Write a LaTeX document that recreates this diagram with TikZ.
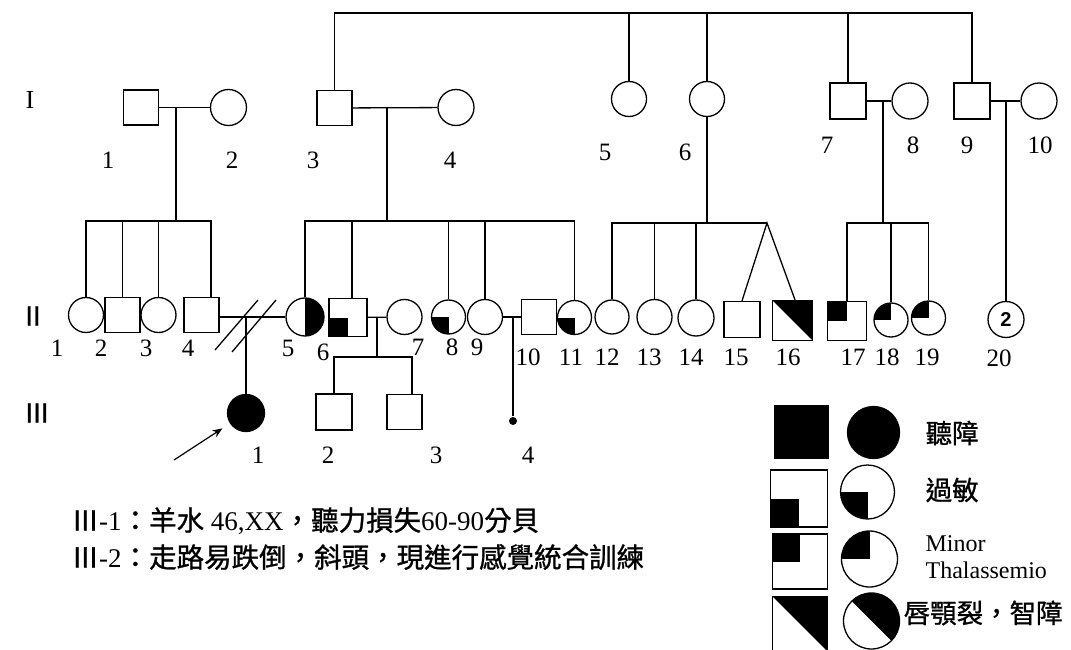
\documentclass[tikz,border=0pt]{standalone}
\usepackage{fontspec}
\setmainfont{Liberation Serif}
\newfontfamily\cjk[FakeBold=1]{Noto Sans CJK TC}
\newfontfamily\arialf{Liberation Sans}
\usetikzlibrary{arrows.meta}
\newcommand{\zh}[1]{{\cjk\fontsize{27.5}{30}\selectfont #1}}

\begin{document}
\begin{tikzpicture}[
  x=1pt, y=-1pt,
  line width=1.3pt,
  male/.style={draw, rectangle, minimum size=#1, inner sep=0pt},
  male/.default=35pt,
  female/.style={draw, circle, minimum size=#1, inner sep=0pt},
  female/.default=35pt,
  deaf/.style={fill=black},
  allergy/.style={path picture={\fill (path picture bounding box.south west) rectangle (path picture bounding box.center);}},
  thal/.style={path picture={\fill (path picture bounding box.north west) rectangle (path picture bounding box.center);}},
  halfr/.style={path picture={\fill (path picture bounding box.north) rectangle (path picture bounding box.south east);}},
  cleft/.style={path picture={\fill (path picture bounding box.north west) -- (path picture bounding box.north east) -- (path picture bounding box.south east) -- cycle;}},
  num/.style={inner sep=0pt, font=\fontsize{25}{28}\selectfont},
  gen/.style={inner sep=0pt, font=\fontsize{26}{28}\selectfont},
  note/.style={anchor=west, inner sep=0pt, font=\fontsize{27}{30}\selectfont},
  key/.style={anchor=west, inner sep=0pt, font=\cjk\fontsize{26.5}{30}\selectfont},
  keyen/.style={anchor=west, inner sep=0pt, font=\fontsize{24}{24}\selectfont}
]
\useasboundingbox (0,0) rectangle (1071,650);

% generation labels
\node[gen] (gI) at (30,100) {I};
\node[gen] (gII) at (33,316) {\cjk Ⅱ};
\node[gen] (gIII) at (37,413) {\cjk Ⅲ};

% generation I
\node[male] (I1) at (141,107.5) {};
\node[female=36pt] (I2) at (228.5,107.5) {};
\node[male] (I3) at (334.5,108) {};
\node[female=36pt] (I4) at (456,107.5) {};
\node[female] (I5) at (629,99) {};
\node[female] (I6) at (707,99) {};
\node[male=36pt] (I7) at (848,101) {};
\node[female=36pt] (I8) at (910,101) {};
\node[male=36pt] (I9) at (972,101) {};
\node[female=36pt] (I10) at (1039,101) {};

% generation II
\node[female] (II1) at (86,315) {};
\node[male] (II2) at (122.5,315) {};
\node[female] (II3) at (158.5,315) {};
\node[male] (II4) at (201.5,315) {};
\node[female=38pt, halfr] (II5) at (305,317) {};
\node[male=38pt, allergy] (II6) at (348,317.5) {};
\node[female] (II7) at (404.5,317) {};
\node[female=34pt, allergy] (II8) at (448.5,317) {};
\node[female] (II9) at (485,317) {};
\node[male] (II10) at (539,317) {};
\node[female=34pt, allergy] (II11) at (574.5,317.5) {};
\node[female=34pt] (II12) at (612,317) {};
\node[female] (II13) at (654.5,317) {};
\node[female=36pt] (II14) at (696,318) {};
\node[male=36pt] (II15) at (742,319.5) {};
\node[male=40pt, cleft] (II16) at (792.5,320.5) {};
\node[male=39pt, thal] (II17) at (847,321) {};
\node[female=34pt, thal] (II18) at (891,320) {};
\node[female=34pt, thal] (II19) at (928.5,318) {};
\node[female=36pt, font=\arialf\bfseries\fontsize{20}{20}\selectfont] (II20) at (1006,319.5) {2};

% generation III
\node[female=37pt, deaf] (III1) at (246,413) {};
\node[male=36pt] (III2) at (334,412) {};
\node[male] (III3) at (404.5,412) {};
\node[circle, fill, inner sep=0pt, minimum size=8pt] (III4) at (513,421) {};

% sibship of I-3 .. I-9
\coordinate (top) at (0,13);
\draw (I3.north) |- (I9.north |- top) -- (I9.north);
\draw (I5.north) -- (I5.north |- top);
\draw (I6.north) -- (I6.north |- top);
\draw (I7.north) -- (I7.north |- top);

% I-1 x I-2
\draw (I1) -- (I2);
\coordinate (m12) at (176,107.5);
\coordinate (s12) at (176,221);
\draw (m12) -- (s12);
\draw (II1.north) |- (s12) -| ([xshift=9.5pt]II4.north);
\draw (II2.north) -- (II2.north |- s12);
\draw (II3.north) -- (II3.north |- s12);

% I-3 x I-4
\draw (I3) -- (I4);
\coordinate (m34) at (387,107.5);
\coordinate (s34) at (387,221);
\draw (m34) -- (s34);
\draw (II5.north) |- (s34) -| (II11.north);
\draw ([xshift=4pt]II6.north) -- ([xshift=4pt]II6.north |- s34);
\draw (II8.north) -- (II8.north |- s34);
\draw (II9.north) -- (II9.north |- s34);

% I-6, twins
\coordinate (twin) at (767,223);
\draw (I6.south) -- (I6.south |- twin);
\draw (II12.north) |- (twin);
\draw (II13.north) -- (II13.north |- twin);
\draw (II14.north) -- (II14.north |- twin);
\draw (II15.north) -- (twin) -- ([xshift=2.5pt]II16.north);

% I-7 x I-8
\draw (I7) -- (I8);
\coordinate (m78) at (883,101);
\coordinate (s78) at (883,223);
\draw (m78) -- (s78);
\draw (II17.north) |- (s78) -| (II19.north);
\draw (II18.north) -- (II18.north |- s78);

% I-9 x I-10
\draw (I9) -- (I10);
\coordinate (m910) at (1006,101);
\draw (m910) -- (II20.north);

% II-4 x II-5, separated
\coordinate (m45) at (246,317);
\draw (II4.east |- m45) -- (II5.west |- m45);
\draw (m45) -- (III1.north);
\coordinate (d1a) at (215,350);
\coordinate (d1b) at (258,300);
\coordinate (d2a) at (232,352);
\coordinate (d2b) at (276,300);
\draw (d1a) -- (d1b);
\draw (d2a) -- (d2b);

% II-6 x II-7
\draw (II6) -- (II7);
\coordinate (m67) at (377,317);
\coordinate (s67) at (377,357);
\draw (m67) -- (s67);
\draw (III2.north) |- (s67) -| ([xshift=7.5pt]III3.north);

% II-9 x II-10
\draw (II9) -- (II10);
\coordinate (m9x10) at (513,317);
\draw (m9x10) -- (III4);

% proband
\coordinate (arr) at (174,460);
\draw[-{Stealth[length=10pt,width=8pt]}, line width=1.2pt, shorten >=9pt] (arr) -- (III1);

% numbers
\foreach \n/\x in {1/108, 2/232, 3/313, 4/450}
  \node[num] (nI\n) at (\x,160) {\n};
\foreach \n/\x in {5/605, 6/685}
  \node[num] (nI\n) at (\x,152) {\n};
\foreach \n/\x in {7/827, 8/913, 9/967, 10/1040}
  \node[num] (nI\n) at (\x,145) {\n};
\foreach \n/\x/\y in {1/57/348, 2/101/348, 3/146/348, 4/188/348, 5/288/348, 6/323/352,
    7/418/347, 8/452/347, 9/477/347, 10/528/357, 11/571/357, 12/607/357, 13/649/357,
    14/691/357, 15/736/357, 16/788/357, 17/853/357, 18/887/357, 19/927/357, 20/999/358}
  \node[num] (nII\n) at (\x,\y) {\n};
\foreach \n/\x in {1/258, 2/328, 3/436, 4/528}
  \node[num] (nIII\n) at (\x,455) {\n};

% notes
\node[note] (n1) at (71,521) {\zh{Ⅲ}-1\zh{：羊水} 46,XX\zh{，聽力損失}60-90\zh{分貝}};
\node[note] (n2) at (71,557) {\zh{Ⅲ}-2\zh{：走路易跌倒，斜頭，現進行感覺統合訓練}};

% legend
\node[male=53pt, deaf] (k1m) at (801.5,432) {};
\node[female=52pt, deaf] (k1f) at (873.5,432.5) {};
\node[key] (k1t) at (925,433) {聽障};
\node[male=57pt, allergy] (k2m) at (799,498.5) {};
\node[female=54pt, allergy] (k2f) at (867.5,492) {};
\node[key] (k2t) at (925,490) {過敏};
\node[male=55pt, thal] (k3m) at (800,561.5) {};
\node[female=56pt, thal] (k3f) at (869.5,559) {};
\node[keyen] (k3t) at (925,544) {Minor};
\node[keyen] (k3u) at (925,570) {Thalassemio};
\node[male=55pt, cleft] (k4m) at (800,624) {};
\node[female=56pt, cleft] (k4f) at (871.5,621) {};
\node[key] (k4t) at (903,613) {唇顎裂，智障};
\end{tikzpicture}
\end{document}
